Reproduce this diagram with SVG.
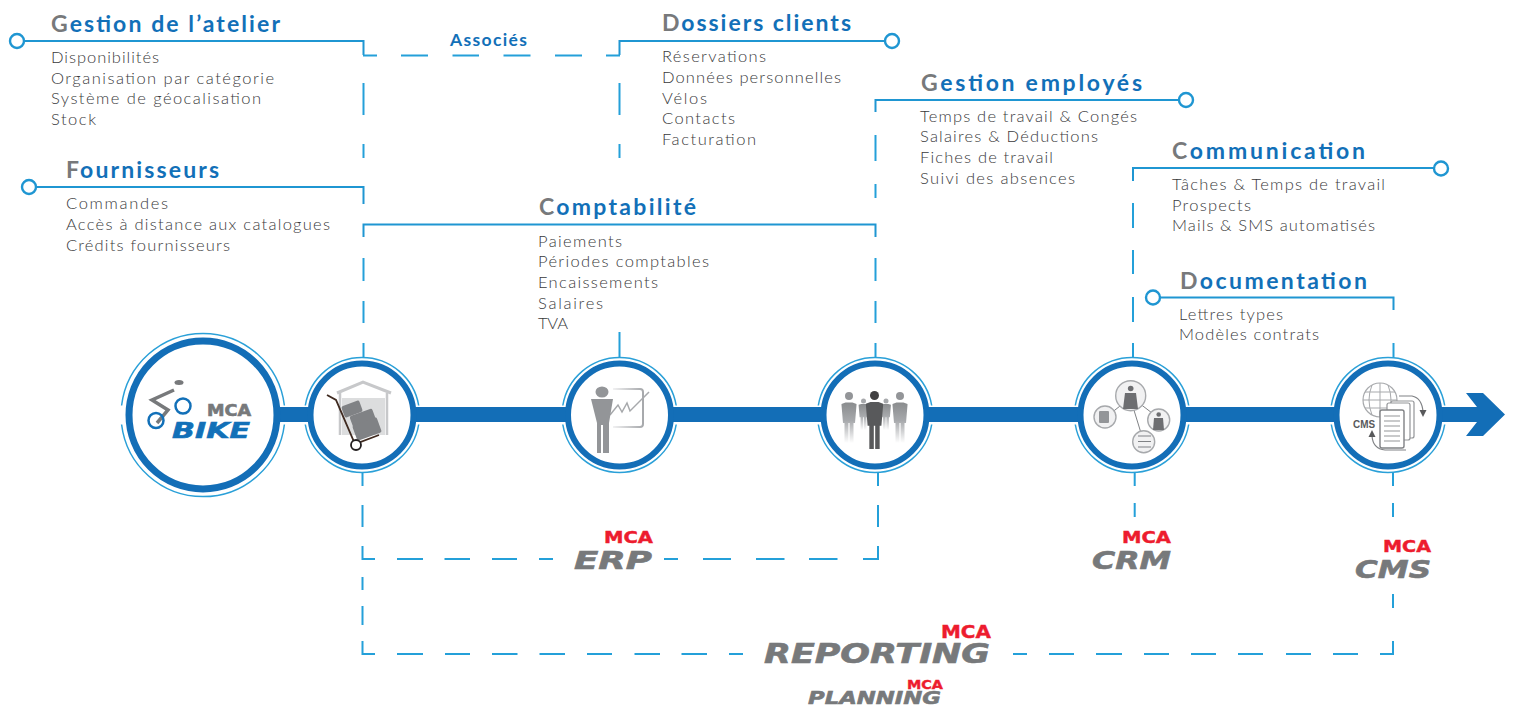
<svg xmlns="http://www.w3.org/2000/svg" width="1514" height="708" viewBox="0 0 1514 708">
<style>
text{font-family:"Lato","Open Sans","Liberation Sans",sans-serif}
.t{font-size:23px;font-weight:700;fill:#1270b8}
.t tspan{fill:#77797b}
.b{font-size:16.500px;font-weight:300;fill:#3a3a3c}
.sol{fill:none;stroke:#1f96d2;stroke-width:2}
.dash{fill:none;stroke:#24a0d9;stroke-width:2}
.dot{fill:#fff;stroke:#1f96d2;stroke-width:2.400}
.bar{fill:#136eb7}
.thin{fill:none;stroke:#2aa0d8;stroke-width:1.500}
.thick{fill:#fff;stroke:#136eb7}
.logo{font-family:"DejaVu Sans",sans-serif;font-weight:700;font-style:italic;fill:#77797b;stroke:#77797b;stroke-width:.6}
.mca{font-family:"DejaVu Sans",sans-serif;font-weight:700;fill:#ed1c2e;stroke:#ed1c2e;stroke-width:.4}
.ic{fill:#939598}
.ln{fill:none;stroke:#77797b}
.cir{fill:#f1f1f2;stroke:#a7a9ac;stroke-width:1.400}
</style>
<defs>
<linearGradient id="fade" x1="0" y1="0" x2="0" y2="1"><stop offset="0" stop-color="#8a8c8e"/><stop offset="0.45" stop-color="#a7a9ac"/><stop offset="1" stop-color="#fff"/></linearGradient>
<linearGradient id="board" x1="0" y1="0" x2="1" y2="0"><stop offset="0" stop-color="#f1f1f2"/><stop offset="1" stop-color="#a7a9ac"/></linearGradient>
<g id="ring"><path class="thin" d="M-56.700-9.500A57.500 57.500 0 0 1 56.700-9.500M-56.700 9.500A57.500 57.500 0 0 0 56.700 9.500"/><circle class="thick" r="51.500" stroke-width="6"/></g>
<path id="man" d="M-3.500-12.500 L3.500-12.500 7.500-11 7.500-10 6 8 4.500 8 4.500 28 .6 28 .6 8-.6 8-.6 28-4.500 28-4.500 8-6 8-7.500-10-7.500-11Z"/>
</defs>

<g id="connectors">
<path class="bar" d="M270 407H1477L1466 393H1483L1505 414.500L1483 436H1466L1477 422H270Z"/>
<path class="sol" d="M24 41H363.500V55"/>
<path class="sol" d="M619.500 55V41H885"/>
<path class="sol" d="M36 187H363.500V204"/>
<path class="sol" d="M363.500 237V224.500H875.500V237"/>
<path class="sol" d="M875.500 112V100H1179"/>
<path class="sol" d="M1133 181V168H1434"/>
<path class="sol" d="M1160 297.500H1393.500V310"/>
<path class="dash" d="M363 55.500H377M401 55.500H428M452.500 55.500H479M503.500 55.500H530.500M555 55.500H582M606 55.500H620"/>
<path class="dash" d="M363.500 83V115M363.500 144V158M363.500 258V281M363.500 301V323M363.500 343V358"/>
<path class="dash" d="M619.500 83V115M619.500 144V158M619.500 332V358"/>
<path class="dash" d="M875.500 135V161M875.500 184V198M875.500 258V281M875.500 301V323M875.500 343V358"/>
<path class="dash" d="M1133 203V228M1133 250V274M1133 297V322M1133 343V358"/>
<path class="dash" d="M1393.500 343V358"/>
<path class="dash" d="M362.500 472V486M362.500 505V527M362.500 546V559H375M397 559H423M444.500 559H470M492 559H517M539 559H553M664 559H678M703 559H731M756 559H784.500M809 559H837.500M863 559H878V546M878 527V505M878 486V472"/>
<path class="dash" d="M362.500 577V590M362.500 606V625M362.500 641V654H375M397 654H423M445 654H470M492 654H517.500M539.500 654H565M587 654H612M634.500 654H660M681.500 654H707M729 654H743"/>
<path class="dash" d="M1013 654H1027M1049 654H1074M1096 654H1122M1144 654H1169M1191 654H1216M1238 654H1263M1286 654H1311M1333 654H1358M1380 654H1393V641M1393 608V594"/>
<path class="dash" d="M1393 472V486M1393 503V517M1134.700 472V486M1134.700 503V517"/>
<circle class="dot" cx="17" cy="41" r="7"/>
<circle class="dot" cx="892" cy="41" r="7"/>
<circle class="dot" cx="29" cy="187" r="7"/>
<circle class="dot" cx="1186" cy="100" r="7"/>
<circle class="dot" cx="1441" cy="168.500" r="7"/>
<circle class="dot" cx="1153" cy="297.500" r="7"/>
</g>

<g id="node-bike">
<path class="thin" d="M121.600 405.500A82 82 0 0 1 284.400 405.500M121.600 424.500A82 82 0 0 0 284.400 424.500"/>
<circle class="thick" cx="203" cy="415" r="74" stroke-width="7"/>
<ellipse cx="179" cy="382.500" rx="4.500" ry="2.500" fill="#77797b"/>
<path class="ln" stroke-width="3.500" d="M174 390L152 400L168 410L157 423"/>
<circle cx="183" cy="406" r="7.500" fill="none" stroke="#1270b8" stroke-width="2.500"/>
<circle cx="156" cy="420.500" r="7.500" fill="none" stroke="#1270b8" stroke-width="2.500"/>
<text class="logo" style="font-style:normal;font-size:15px" x="207" y="416" textLength="44" lengthAdjust="spacingAndGlyphs">MCA</text>
<text class="logo" style="fill:#1270b8;stroke:#1270b8;font-size:22px" x="172" y="438" textLength="78" lengthAdjust="spacingAndGlyphs">BIKE</text>
</g>

<g id="node-atelier">
<use href="#ring" x="362" y="415"/>
<path d="M337 393L363 382L391 393" fill="none" stroke="#c7c8ca" stroke-width="3"/>
<path d="M340 393V435M387 393V435" fill="none" stroke="#c7c8ca" stroke-width="2.500"/>
<rect x="342" y="398" width="43" height="37" fill="#dcddde"/>
<g fill="#808285"><rect x="342.500" y="403" width="19" height="12" rx="2" transform="rotate(-20 352 409)"/><rect x="351" y="412" width="24" height="14" rx="2" transform="rotate(-20 363 419)"/><rect x="354" y="421" width="26" height="16" rx="2" transform="rotate(-20 367 429)"/></g>
<path d="M327 395L336 400L355 444L379 435" fill="none" stroke="#3f2a20" stroke-width="1.800"/>
<circle cx="356" cy="445" r="5" fill="#fff" stroke="#231f20" stroke-width="1.800"/>
</g>

<g id="node-erp">
<use href="#ring" x="619.500" y="415"/>
<path d="M613 389H640Q643 389 643 392V424Q643 427 640 427H613" fill="none" stroke="url(#board)" stroke-width="2"/>
<path d="M610 415L618 405L622 412L627 403L630 411L649 392" fill="none" stroke="#a7a9ac" stroke-width="1.500"/>
<ellipse class="ic" cx="602" cy="392" rx="6.500" ry="5.500"/>
<path class="ic" d="M591 399H613L609 423V453H603V425H601V453H597V423Z"/>
</g>

<g id="node-team">
<use href="#ring" x="875" y="415"/>
<g fill="url(#fade)">
<circle cx="849" cy="396" r="4" fill="#939598"/><use href="#man" x="849" y="415"/>
<circle cx="900" cy="396" r="4" fill="#939598"/><use href="#man" x="900" y="415"/>
<circle cx="863.500" cy="401" r="2.500" fill="#a7a9ac"/><use href="#man" transform="translate(863.500 412) scale(.65)"/>
<circle cx="886" cy="401" r="2.500" fill="#a7a9ac"/><use href="#man" transform="translate(886 412) scale(.65)"/>
</g>
<circle cx="874.500" cy="395.500" r="4.500" fill="#414042"/>
<use href="#man" transform="translate(874.500 416.500) scale(1.150 1.160)" fill="#58595b"/>
</g>

<g id="node-crm">
<use href="#ring" x="1132" y="415"/>
<path d="M1125 402L1110 414M1139 403L1152 413M1133 407L1141 433" fill="none" stroke="#808285" stroke-width="1"/>
<circle class="cir" cx="1130.700" cy="395.700" r="15"/>
<circle class="cir" cx="1105" cy="417" r="11"/>
<circle class="cir" cx="1158.700" cy="420" r="11"/>
<circle class="cir" cx="1143.700" cy="441.700" r="11"/>
<circle cx="1130.700" cy="388.500" r="2.800" fill="#6d6e71"/>
<path d="M1125 393H1136L1138 409H1123Z" fill="#6d6e71"/>
<circle cx="1158.700" cy="414.500" r="2.300" fill="#6d6e71"/>
<path d="M1154 418H1163L1164 430H1153Z" fill="#6d6e71"/>
<rect class="ic" x="1099" y="411" width="10" height="12" rx="1"/>
<path d="M1138 436H1151M1138 441.500H1151M1138 447H1151" fill="none" stroke="#808285" stroke-width="1.200"/>
</g>

<g id="node-cms">
<use href="#ring" x="1388" y="415"/>
<circle cx="1380" cy="400" r="17" fill="none" stroke="#a7a9ac" stroke-width="1.200"/>
<path d="M1363 400H1397M1365 392H1395M1365 408H1395M1380 383V417M1372 385Q1366 400 1372 415M1388 385Q1394 400 1388 415" fill="none" stroke="#a7a9ac"/>
<rect x="1391" y="401" width="23" height="37" rx="2" fill="#fff" stroke="#939598" stroke-width="1.200"/>
<rect x="1387" y="403" width="23" height="37" rx="2" fill="#fff" stroke="#939598" stroke-width="1.200"/>
<rect x="1380" y="410" width="24" height="38" rx="2" fill="#fff" stroke="#808285" stroke-width="1.400"/>
<path d="M1384 416H1400M1384 421H1400M1384 426H1400M1384 431H1400M1384 436H1400M1384 441H1400" fill="none" stroke="#939598" stroke-width="1.200"/>
<path d="M1399 396H1412Q1422 398 1423 412" fill="none" stroke="#808285" stroke-width="1.200"/>
<path d="M1419.500 410H1426.500L1423 417Z" fill="#58595b"/>
<path d="M1406 450H1385Q1373 449 1372 436" fill="none" stroke="#808285" stroke-width="1.200"/>
<path d="M1368.500 437H1375.500L1372 430Z" fill="#58595b"/>
<text x="1353" y="428" style="font-family:'Liberation Sans',sans-serif;font-size:10.500px;font-weight:700;fill:#58595b" textLength="22" lengthAdjust="spacingAndGlyphs">CMS</text>
</g>

<g id="sec-atelier">
<text class="t" x="51" y="32" textLength="229"><tspan>G</tspan>estion de l’atelier</text>
<text class="b" x="51" y="63" textLength="108">Disponibilités</text>
<text class="b" x="51" y="84" textLength="223">Organisation par catégorie</text>
<text class="b" x="51" y="104" textLength="210">Système de géocalisation</text>
<text class="b" x="51" y="125" textLength="45">Stock</text>
</g>
<g id="sec-associes"><text x="450" y="46" textLength="77" style="font-size:17.500px;font-weight:700;fill:#1270b8">Associés</text></g>
<g id="sec-dossiers">
<text class="t" x="662" y="31" textLength="189"><tspan>D</tspan>ossiers clients</text>
<text class="b" x="662" y="62" textLength="104">Réservations</text>
<text class="b" x="662" y="83" textLength="179">Données personnelles</text>
<text class="b" x="662" y="104" textLength="45">Vélos</text>
<text class="b" x="662" y="124" textLength="73">Contacts</text>
<text class="b" x="662" y="145" textLength="94">Facturation</text>
</g>
<g id="sec-fournisseurs">
<text class="t" x="66" y="178" textLength="153"><tspan>F</tspan>ournisseurs</text>
<text class="b" x="66" y="209" textLength="102">Commandes</text>
<text class="b" x="66" y="230" textLength="264">Accès à distance aux catalogues</text>
<text class="b" x="66" y="251" textLength="164">Crédits fournisseurs</text>
</g>
<g id="sec-compta">
<text class="t" x="539" y="215" textLength="157"><tspan>C</tspan>omptabilité</text>
<text class="b" x="538" y="247" textLength="84">Paiements</text>
<text class="b" x="538" y="267" textLength="171">Périodes comptables</text>
<text class="b" x="538" y="288" textLength="120">Encaissements</text>
<text class="b" x="538" y="309" textLength="65">Salaires</text>
<text class="b" x="538" y="329" textLength="30">TVA</text>
</g>
<g id="sec-employes">
<text class="t" x="921" y="91" textLength="221"><tspan>G</tspan>estion employés</text>
<text class="b" x="920" y="122" textLength="217">Temps de travail &amp; Congés</text>
<text class="b" x="920" y="142" textLength="178">Salaires &amp; Déductions</text>
<text class="b" x="920" y="163" textLength="133">Fiches de travail</text>
<text class="b" x="920" y="184" textLength="155">Suivi des absences</text>
</g>
<g id="sec-comm">
<text class="t" x="1172" y="159" textLength="193"><tspan>C</tspan>ommunication</text>
<text class="b" x="1172" y="190" textLength="213">Tâches &amp; Temps de travail</text>
<text class="b" x="1172" y="211" textLength="79">Prospects</text>
<text class="b" x="1172" y="231" textLength="203">Mails &amp; SMS automatisés</text>
</g>
<g id="sec-doc">
<text class="t" x="1180" y="289" textLength="187"><tspan>D</tspan>ocumentation</text>
<text class="b" x="1179" y="320" textLength="104">Lettres types</text>
<text class="b" x="1179" y="340" textLength="140">Modèles contrats</text>
</g>

<g id="logos">
<text class="mca" x="604" y="542.500" font-size="15" textLength="49" lengthAdjust="spacingAndGlyphs">MCA</text>
<text class="logo" x="574" y="569" font-size="24" textLength="78" lengthAdjust="spacingAndGlyphs">ERP</text>
<text class="mca" x="1122" y="542.500" font-size="15" textLength="49" lengthAdjust="spacingAndGlyphs">MCA</text>
<text class="logo" x="1092" y="569" font-size="24" textLength="79" lengthAdjust="spacingAndGlyphs">CRM</text>
<text class="mca" x="1383" y="551.500" font-size="15" textLength="48" lengthAdjust="spacingAndGlyphs">MCA</text>
<text class="logo" x="1355" y="578" font-size="24" textLength="76" lengthAdjust="spacingAndGlyphs">CMS</text>
<text class="mca" x="941" y="638" font-size="17" textLength="50" lengthAdjust="spacingAndGlyphs">MCA</text>
<text class="logo" x="764" y="663" font-size="27" textLength="226" lengthAdjust="spacingAndGlyphs">REPORTING</text>
<text class="mca" x="907" y="689" font-size="12" textLength="36" lengthAdjust="spacingAndGlyphs">MCA</text>
<text class="logo" x="808" y="703.500" font-size="18" textLength="133" lengthAdjust="spacingAndGlyphs">PLANNING</text>
</g>
</svg>
